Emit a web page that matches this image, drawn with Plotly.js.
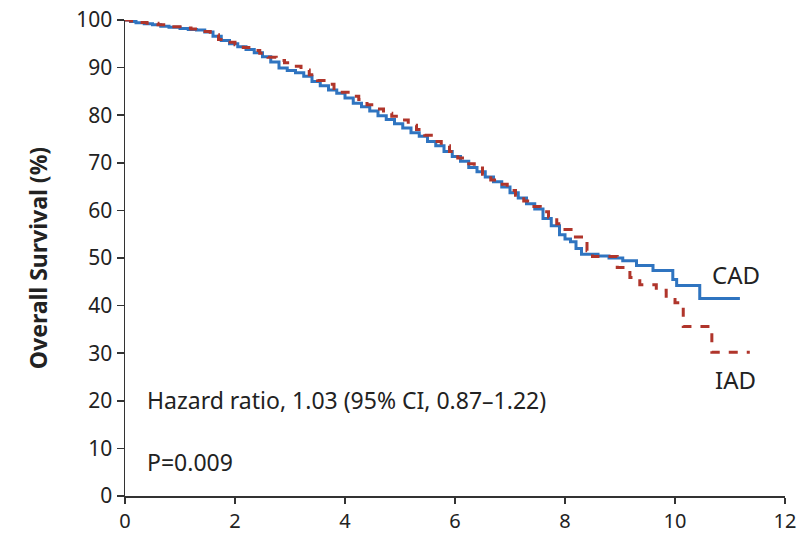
<!DOCTYPE html>
<html>
<head>
<meta charset="utf-8">
<script src="https://cdn.plot.ly/plotly-3.0.1.min.js"></script>
<style>html,body{margin:0;padding:0;background:#fff;}#chart{width:805px;height:536px;}</style>
</head>
<body>
<div id="chart"></div>
<script>
// CAD (continuous-ADT) Kaplan-Meier breakpoints
const cadYears = [0,0.1,0.2,0.35,0.5,0.65,0.8,1.0,1.15,1.3,1.45,1.6,1.75,1.9,2.05,2.2,2.35,2.5,2.65,2.8,2.95,3.1,3.25,3.4,3.55,3.7,3.85,4.0,4.15,4.3,4.45,4.6,4.75,4.9,5.05,5.2,5.35,5.5,5.65,5.8,5.95,6.1,6.25,6.4,6.55,6.7,6.85,7.0,7.15,7.3,7.45,7.6,7.75,7.9,8.0,8.1,8.2,8.3,8.6,8.8,9.05,9.3,9.6,9.96,10.03,10.45,11.18];
const cadSurv  = [100,99.7,99.4,99.2,99.0,98.7,98.5,98.2,98.0,97.9,97.5,96.6,95.7,95.0,94.4,93.8,93.1,92.3,91.2,89.9,89.4,88.9,88.2,87.1,86.2,85.3,84.6,83.6,82.5,81.8,80.9,79.9,79.1,78.2,77.3,76.3,75.6,74.5,73.6,72.4,71.3,70.3,69.0,68.1,67.0,66.0,64.9,63.7,62.6,61.4,60.3,58.3,56.8,54.9,54.0,53.4,52.0,50.8,50.4,50.0,49.4,48.4,47.4,45.5,44.2,41.5,41.5];
// IAD (intermittent-ADT) Kaplan-Meier breakpoints
const iadYears = [0,0.1,0.25,0.4,0.6,0.8,1.0,1.2,1.4,1.55,1.7,1.85,2.0,2.15,2.3,2.45,2.6,2.75,2.9,3.05,3.2,3.35,3.5,3.65,3.8,3.95,4.1,4.25,4.4,4.55,4.7,4.85,5.0,5.15,5.3,5.45,5.6,5.75,5.9,6.05,6.2,6.35,6.5,6.65,6.8,6.95,7.1,7.25,7.4,7.55,7.7,7.85,8.0,8.15,8.3,8.4,8.5,8.95,9.18,9.36,9.66,9.84,10.0,10.15,10.67,11.36];
const iadSurv  = [100,99.8,99.5,99.3,99.0,98.6,98.3,98.1,97.6,96.9,95.9,95.3,94.8,94.2,93.6,93.0,92.2,91.5,91.0,90.3,89.5,88.5,87.3,86.5,85.6,84.8,84.0,83.3,82.2,81.3,80.4,79.8,79.0,77.9,77.0,75.8,74.5,73.6,72.4,71.0,69.8,68.9,67.6,66.4,65.5,64.2,63.2,62.0,60.8,59.7,58.6,57.2,56.0,54.4,53.5,51.5,50.3,48.0,45.9,44.4,43.2,41.3,40.6,35.6,30.2,30.2];

const xTicks = [0,2,4,6,8,10,12];
const yTicks = [0,10,20,30,40,50,60,70,80,90,100];

const txtColor = '#222222';
const font = 'Noto Sans, Open Sans, Liberation Sans, sans-serif';

const traces = [
  {x: cadYears, y: cadSurv, type: 'scatter', mode: 'lines', name: 'CAD',
   line: {shape: 'hv', color: '#2f74c0', width: 3}},
  {x: iadYears, y: iadSurv, type: 'scatter', mode: 'lines', name: 'IAD',
   line: {shape: 'hv', color: '#b0352b', width: 3, dash: 'dash'}}
];

const layout = {
  width: 805, height: 536,
  margin: {l: 125, r: 20, t: 20, b: 40},
  paper_bgcolor: '#ffffff', plot_bgcolor: '#ffffff',
  showlegend: false,
  font: {family: font, color: txtColor, size: 21},
  xaxis: {
    range: [0, 12], tickvals: xTicks, ticktext: xTicks.map(String),
    showgrid: false, zeroline: false, showline: true, linecolor: '#333', linewidth: 1.5,
    ticks: 'outside', ticklen: 6, tickwidth: 1.5, tickcolor: '#333',
    tickfont: {family: font, size: 20, color: txtColor}
  },
  yaxis: {
    range: [0, 100], tickvals: yTicks, ticktext: yTicks.map(String),
    showgrid: false, zeroline: false, showline: true, linecolor: '#333', linewidth: 1.5,
    ticks: 'outside', ticklen: 7, tickwidth: 1.5, tickcolor: '#333',
    tickfont: {family: font, size: 21, color: txtColor},
    title: {text: '<b>Overall Survival (%)</b>', font: {family: font, size: 23, color: txtColor}, standoff: 22}
  },
  annotations: [
    {x: 11.1, y: 46.5, xref: 'x', yref: 'y', text: 'CAD', showarrow: false,
     font: {family: font, size: 24, color: txtColor}},
    {x: 11.1, y: 24.5, xref: 'x', yref: 'y', text: 'IAD', showarrow: false,
     font: {family: font, size: 24, color: txtColor}},
    {x: 0.36, y: 20.1, xref: 'x', yref: 'y', xanchor: 'left', text: 'Hazard ratio, 1.03 (95% CI, 0.87\u20131.22)', showarrow: false,
     font: {family: font, size: 23, color: txtColor}},
    {x: 0.36, y: 7.1, xref: 'x', yref: 'y', xanchor: 'left', text: 'P=0.009', showarrow: false,
     font: {family: font, size: 23, color: txtColor}}
  ]
};

Plotly.newPlot('chart', traces, layout, {displayModeBar: false, staticPlot: true});
</script>
</body>
</html>
